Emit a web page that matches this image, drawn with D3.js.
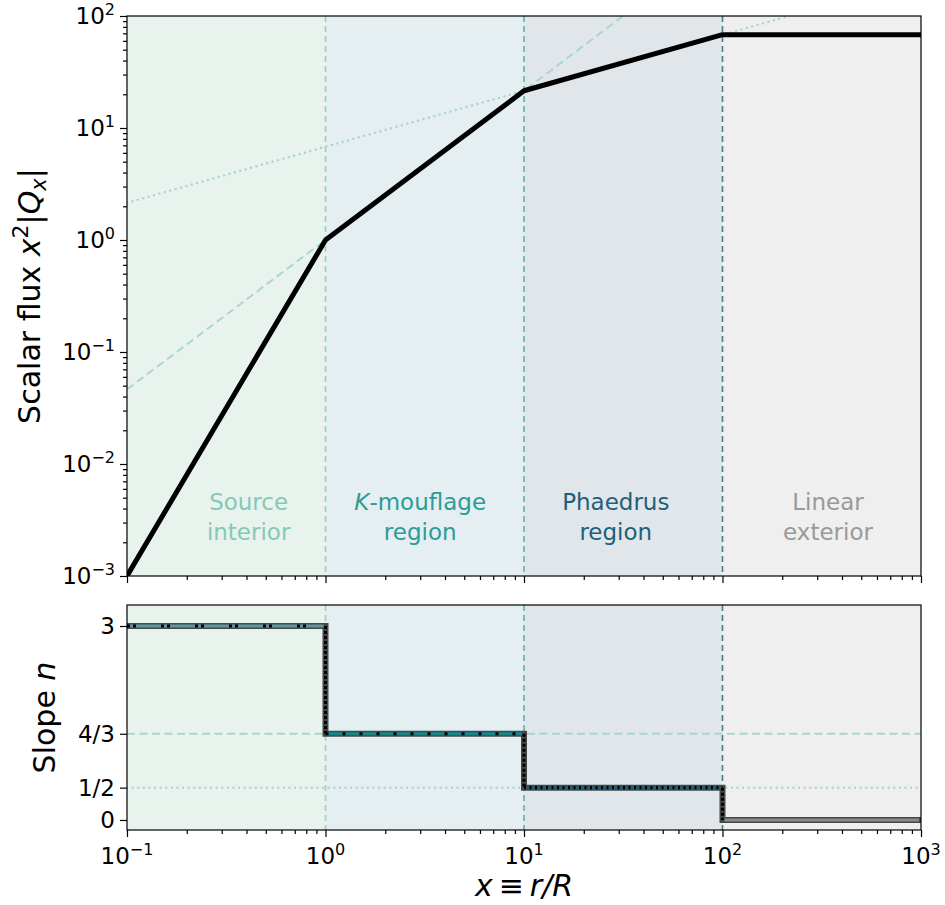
<!DOCTYPE html>
<html lang="en">
<head>
<meta charset="UTF-8">
<script src="https://d3js.org/d3.v7.min.js"></script>
<title>Scalar flux</title>
<style>
  body { margin: 0; background: #fff; }
  text { font-family: "DejaVu Sans", sans-serif; }
</style>
</head>
<body>
<div id="chart"></div>
<script>
  // data
  const breaks = [0.1, 1, 10, 100, 1000];
  const fluxAtBreaks = [0.001, 1, 21.5, 68.1, 68.1];
  const slopes = [3, 4/3, 1/2, 0];
  const slopeTicks = [0, 1/2, 4/3, 3];
  const slopeTickLabels = ["0", "1/2", "4/3", "3"];
  const xDecades = [-1, 0, 1, 2, 3];
  const yDecades = [-3, -2, -1, 0, 1, 2];
  const dashedRef = [[0.1, 0.0464], [31.6, 100]];
  const dottedRef = [[0.1, 2.15], [216, 100]];
  const regionNames = [["Source", "interior"], ["K-mouflage", "region"], ["Phaedrus", "region"], ["Linear", "exterior"]];
  const regionLabelX = [0.41, 3.0, 29, 340];
  const regionFill = ["#e9f3ee", "#e5eef0", "#e0e6ea", "#efefef"];
  const regionText = ["#84c8b6", "#2b9c98", "#1e5f7c", "#999999"];
  const boundaryColor = ["#92d3c4", "#5db3a7", "#4c7c88"];
  const stepColor = ["#5a9a9f", "#14878e", "#1d5d78", "#8a8a8a"];
  const stepDash = ["3,3,3,25", "3,14", "2,3.5", null];

  const W = 945, H = 905;
  const L = 127, R = 921;
  const topPanel = { t: 16, b: 576 };
  const botPanel = { t: 605, b: 830 };

  const svg = d3.select("#chart").append("svg")
    .attr("width", W).attr("height", H);

  const x = d3.scaleLog().domain([0.1, 1000]).range([L, R]);
  const yTop = d3.scaleLog().domain([1e-3, 1e2]).range([topPanel.b, topPanel.t]);
  const yBot = d3.scaleLinear().domain([-0.155, 3.325]).range([botPanel.b, botPanel.t]);

  const regions = slopes.map((s, i) => ({ i, x0: breaks[i], x1: breaks[i + 1], slope: s }));

  // log minor ticks
  const minorVals = (lo, hi) => {
    const out = [];
    for (let d = lo; d < hi; d++) for (let k = 2; k <= 9; k++) out.push(k * Math.pow(10, d));
    return out;
  };

  const defs = svg.append("defs");
  [["clipTop", topPanel], ["clipBot", botPanel]].forEach(([id, p]) => {
    defs.append("clipPath").attr("id", id)
      .append("rect").attr("x", L).attr("y", p.t).attr("width", R - L).attr("height", p.b - p.t);
  });

  function drawBackground(g, p, y) {
    g.selectAll("rect.region").data(regions).enter().append("rect")
      .attr("class", "region")
      .attr("x", d => x(d.x0)).attr("width", d => x(d.x1) - x(d.x0))
      .attr("y", p.t).attr("height", p.b - p.t)
      .attr("fill", d => regionFill[d.i]);
    g.selectAll("line.bound").data(breaks.slice(1, 4)).enter().append("line")
      .attr("class", "bound")
      .attr("x1", d => x(d)).attr("x2", d => x(d))
      .attr("y1", p.t).attr("y2", p.b)
      .attr("stroke", (d, i) => boundaryColor[i])
      .attr("stroke-width", 1.6)
      .attr("stroke-dasharray", "6,4");
  }

  function drawFrame(g, p, y, yMajor, yMinor, yFmt, showXLabels) {
    // x ticks
    const xa = g.append("g").attr("transform", `translate(0,${p.b})`);
    xa.call(d3.axisBottom(x).tickValues(minorVals(-1, 3)).tickSize(4).tickFormat(""));
    xa.call(g2 => g2.select(".domain").remove());
    const xb = g.append("g").attr("transform", `translate(0,${p.b})`);
    xb.call(d3.axisBottom(x).tickValues(xDecades.map(d => Math.pow(10, d))).tickSize(7).tickFormat(""));
    xb.select(".domain").remove();
    [xa, xb].forEach(a => a.selectAll("line").attr("stroke", "#000").attr("stroke-width", 1.2));

    if (showXLabels) {
      const t = g.selectAll("text.xl").data(xDecades).enter().append("text")
        .attr("class", "xl")
        .attr("x", d => x(Math.pow(10, d)))
        .attr("y", p.b + 34)
        .attr("text-anchor", "middle")
        .attr("font-size", 23);
      t.append("tspan").text("10");
      t.append("tspan").attr("dy", -9).attr("font-size", 16)
        .text(d => d < 0 ? "\u2212" + (-d) : d);
    }

    // y ticks
    if (yMinor) {
      const ya = g.append("g").attr("transform", `translate(${L},0)`);
      ya.call(d3.axisLeft(y).tickValues(yMinor).tickSize(4).tickFormat(""));
      ya.select(".domain").remove();
      ya.selectAll("line").attr("stroke", "#000").attr("stroke-width", 1.2);
    }
    const yb = g.append("g").attr("transform", `translate(${L},0)`);
    yb.call(d3.axisLeft(y).tickValues(yMajor).tickSize(7).tickFormat(""));
    yb.select(".domain").remove();
    yb.selectAll("line").attr("stroke", "#000").attr("stroke-width", 1.2);
    yFmt(g.selectAll("text.yl").data(yMajor).enter().append("text")
      .attr("class", "yl")
      .attr("x", L - 12)
      .attr("y", d => y(d) + 8)
      .attr("text-anchor", "end")
      .attr("font-size", 23));

    g.append("rect")
      .attr("x", L).attr("y", p.t).attr("width", R - L).attr("height", p.b - p.t)
      .attr("fill", "none").attr("stroke", "#000").attr("stroke-width", 1.2);
  }

  // ---------- top panel ----------
  const gTop = svg.append("g");
  drawBackground(gTop, topPanel, yTop);

  const lineTop = d3.line().x(d => x(d[0])).y(d => yTop(d[1]));
  const plotTop = gTop.append("g").attr("clip-path", "url(#clipTop)");
  plotTop.append("path").datum(dashedRef)
    .attr("d", lineTop).attr("fill", "none")
    .attr("stroke", "#a9d6cb").attr("stroke-width", 1.9).attr("stroke-dasharray", "8,4.5");
  plotTop.append("path").datum(dottedRef)
    .attr("d", lineTop).attr("fill", "none")
    .attr("stroke", "#a9d6cb").attr("stroke-width", 2.4)
    .attr("stroke-dasharray", "0.1,5.5").attr("stroke-linecap", "round");
  plotTop.append("path").datum(breaks.map((b, i) => [b, fluxAtBreaks[i]]))
    .attr("d", lineTop).attr("fill", "none")
    .attr("stroke", "#000").attr("stroke-width", 5).attr("stroke-linejoin", "round");

  const lab = gTop.selectAll("text.region").data(regions).enter().append("text")
    .attr("class", "region")
    .attr("text-anchor", "middle")
    .attr("font-size", 23)
    .attr("fill", d => regionText[d.i]);
  lab.each(function (d) {
    const t = d3.select(this);
    const cx = x(regionLabelX[d.i]);
    const first = regionNames[d.i][0];
    const t1 = t.append("tspan").attr("x", cx).attr("y", 510);
    if (first.startsWith("K-")) {
      t1.append("tspan").attr("font-style", "italic").text("K");
      t1.append("tspan").text(first.slice(1));
    } else {
      t1.text(first);
    }
    t.append("tspan").attr("x", cx).attr("y", 540).text(regionNames[d.i][1]);
  });

  drawFrame(gTop, topPanel, yTop,
    yDecades.map(d => Math.pow(10, d)), minorVals(-3, 2),
    sel => {
      sel.append("tspan").text("10");
      sel.append("tspan").attr("dy", -9).attr("font-size", 16)
        .text(d => { const e = Math.round(Math.log10(d)); return e < 0 ? "\u2212" + (-e) : e; });
    }, false);

  // y label top
  const yl1 = svg.append("text")
    .attr("transform", `translate(40,${(topPanel.t + topPanel.b) / 2}) rotate(-90)`)
    .attr("text-anchor", "middle").attr("font-size", 30);
  yl1.append("tspan").text("Scalar flux ");
  yl1.append("tspan").attr("font-style", "italic").text("x");
  yl1.append("tspan").attr("dy", -12).attr("font-size", 22).text("2");
  yl1.append("tspan").attr("dy", 12).text("|");
  yl1.append("tspan").attr("font-style", "italic").text("Q");
  yl1.append("tspan").attr("dy", 6).attr("font-size", 21).attr("font-style", "italic").text("x");
  yl1.append("tspan").attr("dy", -6).text("|");

  // ---------- bottom panel ----------
  const gBot = svg.append("g");
  drawBackground(gBot, botPanel, yBot);
  const plotBot = gBot.append("g").attr("clip-path", "url(#clipBot)");
  plotBot.append("line")
    .attr("x1", L).attr("x2", R).attr("y1", yBot(4/3)).attr("y2", yBot(4/3))
    .attr("stroke", "#a9d6cb").attr("stroke-width", 1.9).attr("stroke-dasharray", "8,4.5");
  plotBot.append("line")
    .attr("x1", L).attr("x2", R).attr("y1", yBot(1/2)).attr("y2", yBot(1/2))
    .attr("stroke", "#a9d6cb").attr("stroke-width", 2.4)
    .attr("stroke-dasharray", "0.1,5.5").attr("stroke-linecap", "round");

  const stepPts = breaks.map((b, i) => [b, i < slopes.length ? slopes[i] : slopes[slopes.length - 1]]);
  const stepLine = d3.line().x(d => x(d[0])).y(d => yBot(d[1])).curve(d3.curveStepAfter);
  plotBot.append("path").datum(stepPts)
    .attr("d", stepLine).attr("fill", "none")
    .attr("stroke", "#474747").attr("stroke-width", 6);
  plotBot.selectAll("line.seg").data(regions).enter().append("line")
    .attr("class", "seg")
    .attr("x1", d => x(d.x0) + 2).attr("x2", d => x(d.x1) - 2)
    .attr("y1", d => yBot(d.slope)).attr("y2", d => yBot(d.slope))
    .attr("stroke", d => stepColor[d.i]).attr("stroke-width", 3);
  plotBot.selectAll("line.dash").data(regions.filter(d => stepDash[d.i])).enter().append("line")
    .attr("class", "dash")
    .attr("x1", d => x(d.x0)).attr("x2", d => x(d.x1))
    .attr("y1", d => yBot(d.slope)).attr("y2", d => yBot(d.slope))
    .attr("stroke", "#000").attr("stroke-width", 3.2)
    .attr("stroke-dasharray", d => stepDash[d.i]);
  plotBot.selectAll("line.drop").data(regions.slice(0, 3)).enter().append("line")
    .attr("class", "drop")
    .attr("x1", d => x(d.x1)).attr("x2", d => x(d.x1))
    .attr("y1", d => yBot(d.slope)).attr("y2", d => yBot(slopes[d.i + 1]))
    .attr("stroke", "#000").attr("stroke-width", 3).attr("stroke-dasharray", "3,2");

  drawFrame(gBot, botPanel, yBot, slopeTicks, null,
    sel => sel.text((d, i) => slopeTickLabels[i]), true);

  const yl2 = svg.append("text")
    .attr("transform", `translate(55,${(botPanel.t + botPanel.b) / 2}) rotate(-90)`)
    .attr("text-anchor", "middle").attr("font-size", 30);
  yl2.append("tspan").text("Slope ");
  yl2.append("tspan").attr("font-style", "italic").text("n");

  const xl = svg.append("text")
    .attr("x", (L + R) / 2).attr("y", 896)
    .attr("text-anchor", "middle").attr("font-size", 30);
  xl.append("tspan").attr("font-style", "italic").text("x");
  xl.append("tspan").text("\u2009\u2261\u2009");
  xl.append("tspan").attr("font-style", "italic").text("r/R");
</script>
</body>
</html>
